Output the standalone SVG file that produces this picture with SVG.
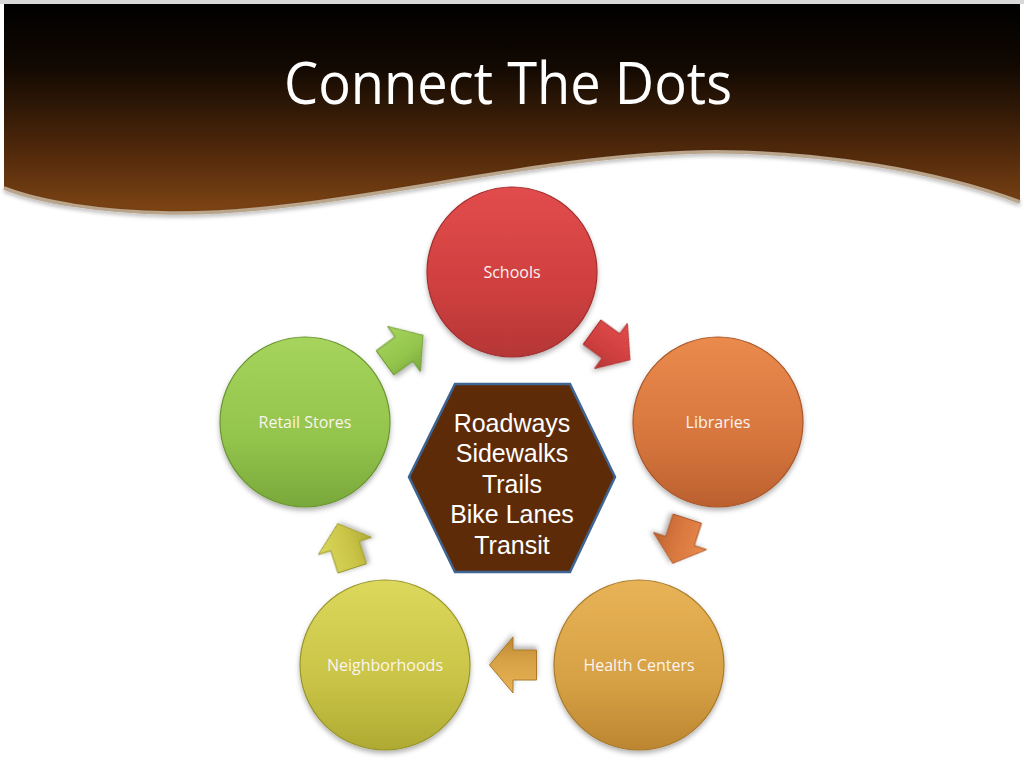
<svg xmlns="http://www.w3.org/2000/svg" width="1024" height="768" viewBox="0 0 1024 768">
<style>
.lbl{font-family:"Open Sans","Liberation Sans",sans-serif;font-size:16px;fill:#fbf4f0;text-anchor:middle}
.hex{font-family:"Liberation Sans",Arial,sans-serif;font-size:25px;fill:#ffffff;text-anchor:middle}
.ttl{font-family:"Open Sans","Liberation Sans",sans-serif;font-size:58px;fill:#ffffff;text-anchor:middle}
.circ{stroke-width:1.2;filter:url(#sh)}
.arr{stroke-width:1;stroke-linejoin:miter;filter:url(#sh)}
</style>
<defs>
<filter id="sh" x="-20%" y="-20%" width="140%" height="150%">
<feDropShadow dx="0" dy="3" stdDeviation="2.5" flood-color="#000" flood-opacity="0.3"/>
</filter>
<filter id="sh2" x="-5%" y="-20%" width="110%" height="150%">
<feDropShadow dx="0" dy="2" stdDeviation="2" flood-color="#000" flood-opacity="0.35"/>
</filter>
<linearGradient id="hdr" x1="0" y1="4" x2="0" y2="215" gradientUnits="userSpaceOnUse">
<stop offset="0" stop-color="#000000"/>
<stop offset="0.3" stop-color="#120902"/>
<stop offset="0.7" stop-color="#51290b"/>
<stop offset="1" stop-color="#804615"/>
</linearGradient>
<linearGradient id="gR" x1="0" y1="0" x2="0" y2="1"><stop offset="0" stop-color="#e24c4c"/><stop offset="0.6" stop-color="#cf3f3f"/><stop offset="1" stop-color="#b53636"/></linearGradient>
<linearGradient id="gO" x1="0" y1="0" x2="0" y2="1"><stop offset="0" stop-color="#ea8a4c"/><stop offset="0.6" stop-color="#d6763e"/><stop offset="1" stop-color="#bb602e"/></linearGradient>
<linearGradient id="gG" x1="0" y1="0" x2="0" y2="1"><stop offset="0" stop-color="#e8b256"/><stop offset="0.6" stop-color="#d6a044"/><stop offset="1" stop-color="#bc8632"/></linearGradient>
<linearGradient id="gY" x1="0" y1="0" x2="0" y2="1"><stop offset="0" stop-color="#dcd85c"/><stop offset="0.6" stop-color="#c9c447"/><stop offset="1" stop-color="#aeaa32"/></linearGradient>
<linearGradient id="gL" x1="0" y1="0" x2="0" y2="1"><stop offset="0" stop-color="#a6d45c"/><stop offset="0.6" stop-color="#93c44c"/><stop offset="1" stop-color="#79a83a"/></linearGradient>
<polygon id="arrow" points="-23.5,-15 0,-15 0,-28 23.5,0 0,28 0,15 -23.5,15"/>
</defs>

<rect x="0" y="0" width="1024" height="768" fill="#ffffff"/>
<rect x="0" y="0" width="1024" height="4" fill="#d8d8d8"/>

<g id="header">
<path d="M4,4 H1020 V202 C940,172 820,150 700,152 C520,156 330,215 170,213 C100,212 40,202 4,188 Z" fill="url(#hdr)"/>
<path d="M1020,202 C940,172 820,150 700,152 C520,156 330,215 170,213 C100,212 40,202 4,188" fill="none" stroke="#b9a48c" stroke-width="3.5" filter="url(#sh2)"/>
<text class="ttl" x="508" y="104" textLength="448" lengthAdjust="spacingAndGlyphs">Connect The Dots</text>
</g>

<g id="connectors">
<use href="#arrow" class="arr" fill="url(#gR)" stroke="#a82e2e" transform="translate(611,346) rotate(36)"/>
<use href="#arrow" class="arr" fill="url(#gO)" stroke="#a8562a" transform="translate(680,541) rotate(108)"/>
<use href="#arrow" class="arr" fill="url(#gG)" stroke="#a87a2c" transform="translate(513,665) rotate(180)"/>
<use href="#arrow" class="arr" fill="url(#gY)" stroke="#98942a" transform="translate(345,546) rotate(252)"/>
<use href="#arrow" class="arr" fill="url(#gL)" stroke="#6a9432" transform="translate(404,349) rotate(324)"/>
</g>

<g id="node-schools">
<circle class="circ" cx="512" cy="272" r="85" fill="url(#gR)" stroke="#a02e2e"/>
<text class="lbl" x="512" y="278">Schools</text>
</g>
<g id="node-libraries">
<circle class="circ" cx="718" cy="422" r="85" fill="url(#gO)" stroke="#a8562a"/>
<text class="lbl" x="718" y="428">Libraries</text>
</g>
<g id="node-health">
<circle class="circ" cx="639" cy="665" r="85" fill="url(#gG)" stroke="#a87a2c"/>
<text class="lbl" x="639" y="671">Health Centers</text>
</g>
<g id="node-neighborhoods">
<circle class="circ" cx="385" cy="665" r="85" fill="url(#gY)" stroke="#98942a"/>
<text class="lbl" x="385" y="671">Neighborhoods</text>
</g>
<g id="node-retail">
<circle class="circ" cx="305" cy="422" r="85" fill="url(#gL)" stroke="#6a9432"/>
<text class="lbl" x="305" y="428">Retail Stores</text>
</g>

<g id="node-center">
<polygon points="455,384 570,384 615,477 570,572 455,572 409,477" fill="#5e2b08" stroke="#3d6492" stroke-width="2.5"/>
<text class="hex" x="512" y="432">Roadways</text>
<text class="hex" x="512" y="462">Sidewalks</text>
<text class="hex" x="512" y="493">Trails</text>
<text class="hex" x="512" y="523">Bike Lanes</text>
<text class="hex" x="512" y="554">Transit</text>
</g>
</svg>
